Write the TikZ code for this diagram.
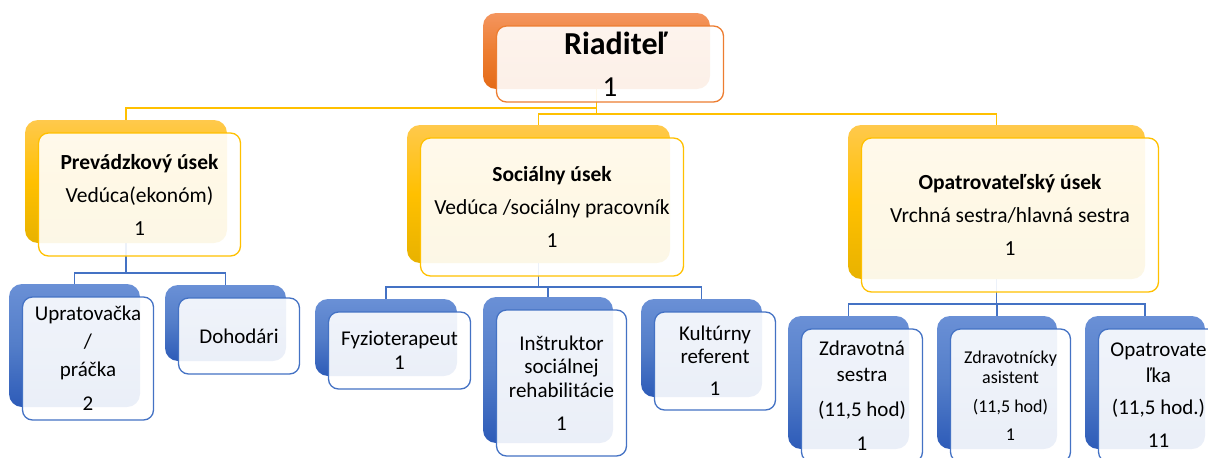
\documentclass[tikz,border=0pt]{standalone}
\usepackage{fontspec}
\setmainfont{Carlito}
\usetikzlibrary{backgrounds,calc}
\definecolor{orgO}{HTML}{ED7D31}
\definecolor{orgOt}{HTML}{F4955E}
\definecolor{orgOb}{HTML}{E46A17}
\definecolor{orgY}{HTML}{FFC000}
\definecolor{orgYt}{HTML}{FFC94C}
\definecolor{orgYb}{HTML}{E8B200}
\definecolor{orgB}{HTML}{4472C4}
\definecolor{orgBt}{HTML}{6A90D6}
\definecolor{orgBb}{HTML}{2D5BB8}
\tikzset{
  x=1pt,y=-1pt,
  backbase/.style={rectangle, rounded corners=13pt, inner sep=0pt, outer sep=0pt, draw=none},
  backO/.style={backbase, top color=orgOt, bottom color=orgOb, middle color=orgO},
  backY/.style={backbase, top color=orgYt, bottom color=orgYb, middle color=orgY},
  backB/.style={backbase, top color=orgBt, bottom color=orgBb, middle color=orgB!92!white},
  frontbase/.style={rectangle, rounded corners=10pt, inner sep=0pt, outer sep=0pt,
    line width=1.3pt, fill=white, fill opacity=0.9, text opacity=1, align=center,
    text=black},
  frontO/.style={frontbase, draw=orgO},
  frontY/.style={frontbase, draw=orgY},
  frontB/.style={frontbase, draw=orgB},
  yconn/.style={draw=orgY, line width=1.4pt},
  bconn/.style={draw=orgB, line width=1.2pt},
  headfont/.style={font=\fontsize{21.5}{33}\selectfont},
  subfont/.style={font=\fontsize{21}{24}\selectfont},
}
% #1 options of text node, #2 name, #3 x, #4 y, #5 w, #6 h, #7 kind, #8 text
\newcommand\orgunit[8][]{%
  \node[back#7, minimum width=#5pt, minimum height=#6pt, anchor=north west] (#2-b) at (#3,#4) {};
  \node[front#7, minimum width=#5pt, minimum height=#6pt, anchor=north west, #1] (#2) at ($(#3,#4)+(13.5,13)$) {#8};
}
\begin{document}
\begin{tikzpicture}
\useasboundingbox (0,0) rectangle (1208,458);
\clip (0,0) rectangle (1208,458);

\orgunit[font=\fontsize{29}{42}\selectfont]{R}{483}{13}{227}{76}{O}{\hspace*{12pt}{\fontsize{32}{42}\selectfont\textbf{Riaditeľ}}\\1}

\orgunit[headfont]{P}{25}{120}{202}{123}{Y}{\textbf{Prevádzkový úsek}\\Vedúca(ekonóm)\\1}
\orgunit[headfont]{S}{407}{125}{263}{138}{Y}{\textbf{Sociálny úsek}\\Vedúca /sociálny pracovník\\1}
\orgunit[headfont]{O}{848}{125}{297}{154}{Y}{\textbf{Opatrovateľský úsek}\\Vrchná sestra/hlavná sestra\\1}

\orgunit[font=\fontsize{21}{28}\selectfont]{U}{9}{284}{131}{123}{B}{Upratovačka\\/\\práčka\\[6pt]2}
\orgunit[subfont]{D}{165}{285}{121}{76}{B}{Dohodári}
\orgunit[subfont]{F}{315}{299}{142}{77}{B}{Fyzioterapeut\\1}
\orgunit[font=\fontsize{21}{23.5}\selectfont]{I}{483}{297}{130}{146}{B}{Inštruktor\\sociálnej\\rehabilitácie\\[9.5pt]1}
\orgunit[font=\fontsize{21}{23}\selectfont]{K}{641}{299}{121}{98}{B}{Kultúrny\\referent\\[9pt]1}
\orgunit[font=\fontsize{21}{26}\selectfont]{Z}{788}{316}{121}{133}{B}{Zdravotná\\sestra\\[9pt](11,5 hod)\\[8pt]1}
\orgunit[font=\fontsize{18}{20}\selectfont]{A}{937}{316}{120}{133}{B}{Zdravotnícky\\asistent\\[9pt](11,5 hod)\\[8pt]1}
\orgunit[font=\fontsize{21}{26}\selectfont]{L}{1085}{316}{120}{133}{B}{Opatrovate\\ľka\\[6pt](11,5 hod.)\\[7pt]11}

\begin{scope}[on background layer]
\draw[yconn] (R-b.south) -- (R-b.south |- 0,108) -| (P-b.north);
\draw[yconn] (R-b.south) -- (R-b.south |- 0,114) -| (S-b.north);
\draw[yconn] (R-b.south |- 0,114) -| (O-b.north);
\draw[bconn] (P-b.south) -- (P-b.south |- 0,273) -| (U-b.north);
\draw[bconn] (P-b.south |- 0,273) -| (D-b.north);
\draw[bconn] (S-b.south) -- (S-b.south |- 0,287) -| (F-b.north);
\draw[bconn] (S-b.south |- 0,287) -| (I-b.north);
\draw[bconn] (S-b.south |- 0,287) -| (K-b.north);
\draw[bconn] (O-b.south) -- (O-b.south |- 0,304) -| (Z-b.north);
\draw[bconn] (O-b.south |- 0,304) -| (A-b.north);
\draw[bconn] (O-b.south |- 0,304) -| (L-b.north);
\end{scope}
\end{tikzpicture}
\end{document}
